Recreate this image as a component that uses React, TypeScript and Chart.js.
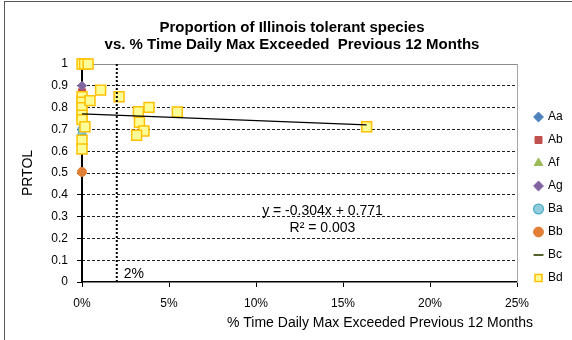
import React, { useEffect, useRef } from 'react';
import { Chart, registerables } from 'chart.js';

Chart.register(...registerables);

// ---- data ----
const TITLE_LINES = ['Proportion of Illinois tolerant species', 'vs. % Time Daily Max Exceeded  Previous 12 Months'];
const X_TITLE = '% Time Daily Max Exceeded Previous 12 Months';
const Y_TITLE = 'PRTOL';
const X_TICKS = [0, 5, 10, 15, 20, 25];
const Y_TICKS = [0, 0.1, 0.2, 0.3, 0.4, 0.5, 0.6, 0.7, 0.8, 0.9, 1];

const AA_X = [0];
const AA_Y = [0.83];
const AB_X = [0];
const AB_Y = [0.87];
const AF_X = [0];
const AF_Y = [0.84];
const AG_X = [0];
const AG_Y = [0.9];
const BA_X = [0, 0, 0, 0.05];
const BA_Y = [0.7, 0.675, 0.82, 0.66];
const BB_X = [0];
const BB_Y = [0.505];
const BC_X = [0];
const BC_Y = [0.78];
const BD_X = [0, 0, 0, 0, 0, 0, 0, 0, 0.15, 0.35, 0.17, 0.46, 1.07, 2.13, 3.24, 3.85, 5.48, 3.3, 3.56, 3.14, 16.36];
const BD_Y = [1.0, 0.85, 0.825, 0.8, 0.765, 0.745, 0.65, 0.61, 1.0, 1.0, 0.712, 0.832, 0.88, 0.85, 0.781, 0.801, 0.78, 0.733, 0.693, 0.673, 0.712];

const TREND_X = [0, 16.36];
const TREND_Y = [0.771, 0.721];
const REF_X = [2, 2];
const REF_Y = [0, 1];

const EQ_TEXT = 'y = -0.304x + 0.771';
const R2_TEXT = 'R² = 0.003';
const REF_TEXT = '2%';

const FONT = "'Liberation Sans', Arial, Helvetica, sans-serif";

const pts = (xs: number[], ys: number[]) => xs.map((x, i) => ({ x, y: ys[i] }));

const textPlugin = {
  id: 'textPlugin',
  afterDraw(chart: any) {
    const { ctx, scales } = chart;
    const x = scales.x;
    const y = scales.y;
    ctx.save();
    ctx.fillStyle = '#000';
    ctx.textBaseline = 'middle';
    ctx.font = `14px ${FONT}`;
    ctx.textAlign = 'center';
    ctx.fillText(EQ_TEXT, x.getPixelForValue(13.82), y.getPixelForValue(0.323));
    ctx.fillText(R2_TEXT, x.getPixelForValue(13.82), y.getPixelForValue(0.247));
    ctx.textAlign = 'left';
    ctx.fillText(REF_TEXT, x.getPixelForValue(2) + 7, y.getPixelForValue(0.037));
    ctx.textAlign = 'center';
    ctx.fillText(X_TITLE, 380, 323);
    ctx.restore();
  },
};

export default function App() {
  const ref = useRef<HTMLCanvasElement | null>(null);

  useEffect(() => {
    if (!ref.current) return;
    Chart.defaults.font.family = FONT;
    Chart.defaults.color = '#000';

    const scatter = (label: string, xs: number[], ys: number[], style: any, order: number) => ({
      label,
      data: pts(xs, ys),
      showLine: false,
      clip: false,
      order,
      ...style,
    });

    const chart = new Chart(ref.current, {
      type: 'scatter',
      data: {
        datasets: [
          scatter('Aa', AA_X, AA_Y, { pointStyle: 'rectRot', pointRadius: 4.5, backgroundColor: '#4F81BD', borderColor: '#4F81BD', borderWidth: 1 }, 1),
          scatter('Ab', AB_X, AB_Y, { pointStyle: 'rect', pointRadius: 5, backgroundColor: '#C0504D', borderColor: '#C0504D', borderWidth: 1 }, 1),
          scatter('Af', AF_X, AF_Y, { pointStyle: 'triangle', pointRadius: 4.5, backgroundColor: '#9BBB59', borderColor: '#9BBB59', borderWidth: 1 }, 1),
          scatter('Ag', AG_X, AG_Y, { pointStyle: 'rectRot', pointRadius: 4.5, backgroundColor: '#8064A2', borderColor: '#8064A2', borderWidth: 1 }, 0),
          scatter('Ba', BA_X, BA_Y, { pointStyle: 'circle', pointRadius: 4, backgroundColor: '#93CDDD', borderColor: '#4BACC6', borderWidth: 1.2 }, 1),
          scatter('Bb', BB_X, BB_Y, { pointStyle: 'circle', pointRadius: 4.5, backgroundColor: '#E07F35', borderColor: '#E07F35', borderWidth: 1 }, 1),
          scatter('Bc', BC_X, BC_Y, { pointStyle: 'line', pointRadius: 5, backgroundColor: '#4F6228', borderColor: '#4F6228', borderWidth: 2 }, 2),
          scatter('Bd', BD_X, BD_Y, { pointStyle: 'rect', pointRadius: 7, backgroundColor: '#FFFF99', borderColor: '#FFC000', borderWidth: 1.5 }, -1),
          {
            label: 'trend',
            data: pts(TREND_X, TREND_Y),
            showLine: true,
            pointRadius: 0,
            borderColor: '#000',
            borderWidth: 1.3,
            order: -3,
          },
          {
            label: 'ref',
            data: pts(REF_X, REF_Y),
            showLine: true,
            pointRadius: 0,
            borderColor: '#000',
            borderWidth: 2,
            borderDash: [2, 2],
            order: -2,
          },
        ],
      },
      options: {
        animation: false,
        responsive: false,
        devicePixelRatio: 1,
        layout: { padding: { left: 12, right: 0, top: 0, bottom: 0 } },
        plugins: {
          title: {
            display: true,
            text: TITLE_LINES,
            color: '#000',
            font: { size: 15, weight: 'bold', family: FONT, lineHeight: 1.1667 },
            padding: { top: 18.75, bottom: 10.25 },
          },
          legend: {
            display: true,
            position: 'right',
            align: 'start',
            fullSize: true,
            maxWidth: 48,
            title: { display: true, text: '', font: { size: 12 }, padding: { top: 0, bottom: 85.6 } },
            labels: {
              usePointStyle: true,
              boxWidth: 7,
              boxHeight: 7,
              padding: 11,
              color: '#000',
              font: { size: 12, family: FONT },
              filter: (item: any) => item.text !== 'trend' && item.text !== 'ref',
              sort: (a: any, b: any) => a.datasetIndex - b.datasetIndex,
            },
          },
          tooltip: { enabled: false },
        },
        scales: {
          x: {
            type: 'linear',
            position: 'bottom',
            min: 0,
            max: 25,
            afterBuildTicks: (s: any) => { s.ticks = X_TICKS.map((v) => ({ value: v })); },
            ticks: { callback: (v: any) => `${v}%`, padding: 9, font: { size: 12 }, color: '#000', maxRotation: 0 },
            grid: { drawOnChartArea: false, drawTicks: true, tickLength: 5, tickColor: '#000', tickWidth: 1 },
            border: { display: true, color: '#000', width: 1.5 },
            afterFit: (s: any) => { s.height = 58; },
          },
          y: {
            type: 'linear',
            position: 'left',
            min: 0,
            max: 1,
            afterBuildTicks: (s: any) => { s.ticks = Y_TICKS.map((v) => ({ value: v })); },
            ticks: { callback: (v: any) => String(Math.round(Number(v) * 10) / 10), padding: 9, font: { size: 12 }, color: '#000' },
            grid: { drawOnChartArea: false, tickLength: 5, tickColor: '#000', tickWidth: 1 },
            border: { display: true, color: '#000', width: 2 },
            title: { display: true, text: Y_TITLE, font: { size: 14, family: FONT }, color: '#000', padding: { top: 7.6, bottom: 0 } },
            afterFit: (s: any) => { s.width = 70; },
          },
          yGrid: {
            type: 'linear',
            position: 'left',
            min: 0,
            max: 1,
            display: true,
            afterBuildTicks: (s: any) => { s.ticks = Y_TICKS.map((v) => ({ value: v })); },
            ticks: { display: false },
            grid: {
              drawTicks: false,
              color: (c: any) => (c.tick && (c.tick.value === 0 || c.tick.value === 1) ? 'rgba(0,0,0,0)' : '#222'),
              lineWidth: 1,
            },
            border: { display: false, dash: [3, 2] },
            afterFit: (s: any) => { s.width = 0; },
          },
          x2: {
            type: 'linear',
            position: 'top',
            min: 0,
            max: 25,
            display: true,
            ticks: { display: false },
            grid: { display: false, drawTicks: false },
            border: { display: true, color: '#8C8C8C', width: 1 },
            afterFit: (s: any) => { s.height = 0; },
          },
          y2: {
            type: 'linear',
            position: 'right',
            min: 0,
            max: 1,
            display: true,
            ticks: { display: false },
            grid: { display: false, drawTicks: false },
            border: { display: true, color: '#A6A6A6', width: 1 },
            afterFit: (s: any) => { s.width = 7; },
          },
        },
      },
      plugins: [textPlugin],
    } as any);

    return () => chart.destroy();
  }, []);

  return (
    <div style={{ position: 'fixed', left: 0, top: 0, width: 572, height: 340, background: '#fff', overflow: 'hidden' }}>
      <canvas ref={ref} width={572} height={340} style={{ position: 'absolute', left: 0, top: 0, width: 572, height: 340 }} />
      <div
        style={{
          position: 'absolute',
          left: 4,
          top: 1,
          width: 570,
          height: 342,
          borderLeft: '1px solid #555',
          borderTop: '1px solid #555',
          pointerEvents: 'none',
        }}
      />
    </div>
  );
}
